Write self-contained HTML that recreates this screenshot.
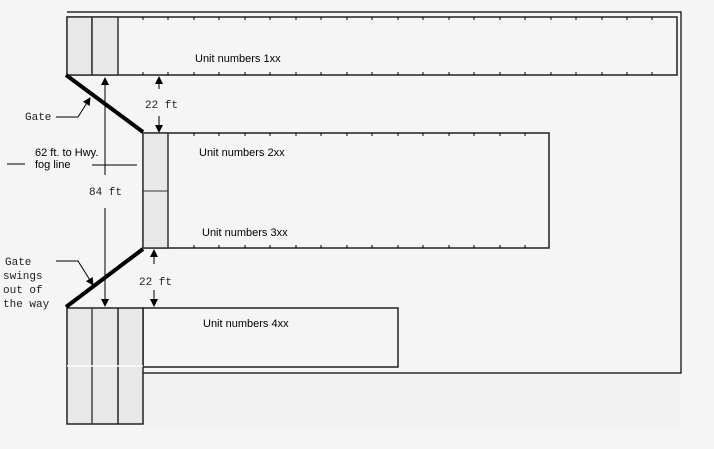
<!DOCTYPE html><html><head><style>body{margin:0;background:#f5f5f5}svg{display:block}</style></head><body>
<svg width="714" height="449" xmlns="http://www.w3.org/2000/svg" font-family="Liberation Sans, sans-serif">
<defs><marker id="a" markerWidth="8" markerHeight="10" refX="7" refY="5" orient="auto" markerUnits="userSpaceOnUse"><path d="M0,1 L8,5 L0,9Z" fill="#000"/></marker></defs>
<rect width="714" height="449" fill="#f5f5f5"/>
<rect x="143" y="374" width="538" height="55" fill="#f2f2f2"/>
<path d="M67,12 H681 V373 H143" fill="none" stroke="#000" stroke-width="1.2"/>
<!-- top building -->
<rect x="67" y="17" width="610" height="58" fill="#f5f5f5" stroke="#222" stroke-width="1.5"/>
<rect x="67" y="17" width="25" height="58" fill="#e8e8e8" stroke="#333" stroke-width="1.5"/>
<rect x="92" y="17" width="26" height="58" fill="#e8e8e8" stroke="#333" stroke-width="1.5"/>
<g stroke="#000" stroke-width="1">
<path d="M143,17v3M168,17v3M194,17v3M219,17v3M245,17v3M270,17v3M296,17v3M321,17v3M347,17v3M372,17v3M398,17v3M423,17v3M449,17v3M474,17v3M500,17v3M525,17v3M551,17v3M576,17v3M602,17v3M627,17v3M652,17v3"/>
<path d="M143,75v-3M168,75v-3M194,75v-3M219,75v-3M245,75v-3M270,75v-3M296,75v-3M321,75v-3M347,75v-3M372,75v-3M398,75v-3M423,75v-3M449,75v-3M474,75v-3M500,75v-3M525,75v-3M551,75v-3M576,75v-3M602,75v-3M627,75v-3M652,75v-3"/>
</g>
<text x="195" y="62" font-size="11">Unit numbers 1xx</text>
<!-- middle -->
<rect x="143" y="133" width="406" height="115" fill="#f5f5f5" stroke="#222" stroke-width="1.5"/>
<rect x="143" y="133" width="25" height="115" fill="#e8e8e8" stroke="#333" stroke-width="1.5"/>
<line x1="143" y1="191" x2="168" y2="191" stroke="#333"/>
<g stroke="#000"><path d="M194,133v3M219,133v3M245,133v3M270,133v3M296,133v3M321,133v3M347,133v3M372,133v3M398,133v3M423,133v3M449,133v3M474,133v3M500,133v3M525,133v3M194,248v-3M219,248v-3M245,248v-3M270,248v-3M296,248v-3M321,248v-3M347,248v-3M372,248v-3M398,248v-3M423,248v-3M449,248v-3M474,248v-3M500,248v-3M525,248v-3"/></g>
<text x="199" y="156" font-size="11">Unit numbers 2xx</text>
<text x="202" y="236" font-size="11">Unit numbers 3xx</text>
<!-- bottom -->
<rect x="143" y="308" width="255" height="59" fill="#f5f5f5" stroke="#222" stroke-width="1.5"/>
<rect x="67" y="308" width="76" height="116" fill="#e8e8e8" stroke="#222" stroke-width="1.5"/>
<line x1="92" y1="308" x2="92" y2="424" stroke="#444" stroke-width="1.5"/>
<line x1="118" y1="308" x2="118" y2="424" stroke="#222" stroke-width="1.5"/>
<line x1="67" y1="366" x2="143" y2="366" stroke="#fff" stroke-width="1.5"/>
<text x="203" y="327" font-size="11">Unit numbers 4xx</text>
<!-- gates -->
<line x1="66" y1="75" x2="143" y2="132" stroke="#000" stroke-width="4"/>
<line x1="66" y1="307" x2="143" y2="249" stroke="#000" stroke-width="4"/>
<!-- dims -->
<g stroke="#000" stroke-width="1" fill="none">
<line x1="105" y1="175" x2="105" y2="78" marker-end="url(#a)"/>
<line x1="105" y1="208" x2="105" y2="306" marker-end="url(#a)"/>
<line x1="159" y1="89" x2="159" y2="77" marker-end="url(#a)"/>
<line x1="159" y1="116" x2="159" y2="132" marker-end="url(#a)"/>
<line x1="154" y1="264" x2="154" y2="250" marker-end="url(#a)"/>
<line x1="154" y1="290" x2="154" y2="306" marker-end="url(#a)"/>
<path d="M56,117H78L90,98" marker-end="url(#a)"/>
<path d="M56,261H78L93,285" marker-end="url(#a)"/>
<line x1="7" y1="164" x2="25" y2="164"/>
<line x1="92" y1="165" x2="137" y2="165"/>
</g>
<g font-family="Liberation Mono, monospace" font-size="11" fill="#222">
<text x="89" y="195">84 ft</text>
<text x="145" y="108">22 ft</text>
<text x="139" y="285">22 ft</text>
<text x="25" y="120">Gate</text>
<text x="5" y="265">Gate</text>
<text x="3" y="279">swings</text>
<text x="3" y="293">out of</text>
<text x="3" y="307">the way</text>
</g>
<text x="35" y="156" font-size="11">62 ft. to Hwy.</text>
<text x="35" y="168" font-size="11">fog line</text>
</svg></body></html>
